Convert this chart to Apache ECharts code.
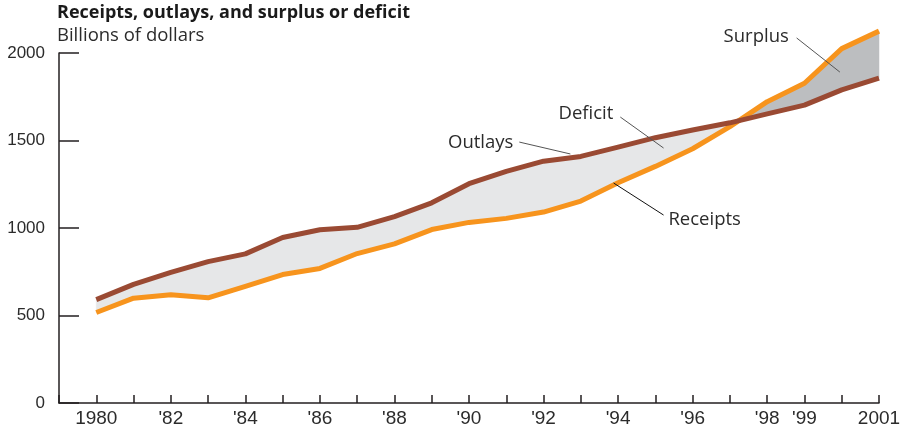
<!DOCTYPE html>
<html><head><meta charset="utf-8">
<script src="https://cdn.jsdelivr.net/npm/echarts@6/dist/echarts.min.js"></script>
<style>html,body{margin:0;padding:0;background:#fff}#c{width:911px;height:433px}</style>
</head><body><div id="c"></div>
<script>
// ---- data (billions of dollars) ----
const years = [1980,1981,1982,1983,1984,1985,1986,1987,1988,1989,1990,1991,1992,1993,1994,1995,1996,1997,1998,1999,2000,2001];
const receipts = [517,599,618,601,666,734,769,854,909,991,1032,1055,1091,1154,1259,1352,1453,1579,1722,1827,2025,2125];
const outlays  = [591,678,746,808,852,946,990,1004,1065,1144,1253,1324,1382,1409,1462,1516,1560,1601,1652,1702,1789,1856];
const tickLabelYears = [1980,1982,1984,1986,1988,1990,1992,1994,1996,1998,1999,2001];
const tickLabelTexts = ['1980',"'82","'84","'86","'88","'90","'92","'94","'96","'98","'99",'2001'];
const yTicks = [0,500,1000,1500,2000];

// ---- fill regions between the two curves (deficit / surplus), split at crossovers ----
function buildRegions(){
  const regions = []; // {kind, pts:[[x,r,o],...]}
  let cur = null;
  for (let i=0;i<years.length;i++){
    const r=receipts[i], o=outlays[i];
    if (i>0){
      const d0=outlays[i-1]-receipts[i-1], d1=o-r;
      if (d0*d1<0){
        const t=d0/(d0-d1);
        const x=years[i-1]+t;
        const y=receipts[i-1]+t*(r-receipts[i-1]);
        cur.pts.push([x,y,y]);
        cur = {kind: d1>0?'deficit':'surplus', pts:[[x,y,y]]};
        regions.push(cur);
      }
    }
    if (!cur){ cur = {kind: o>=r?'deficit':'surplus', pts:[]}; regions.push(cur); }
    cur.pts.push([years[i],r,o]);
  }
  return regions;
}
const regions = buildRegions();
const regionColor = {deficit:'#e6e7e8', surplus:'#bcbec0'};

const chart = echarts.init(document.getElementById('c'), null, {renderer:'canvas'});
const axisColor = '#231f20';
const textColor = '#2b2b2b';
const annoFont = '"Open Sans", "Noto Sans", sans-serif';

chart.setOption({
  animation:false,
  backgroundColor:'#fff',
  title:[
    {text:'Receipts, outlays, and surplus or deficit', left:57, top:4, padding:0,
     textStyle:{fontFamily:annoFont, fontWeight:'bold', fontSize:18, color:'#1a1a1a'}},
    {text:'Billions of dollars', left:57, top:26, padding:0,
     textStyle:{fontFamily:annoFont, fontWeight:'normal', fontSize:18.5, color:textColor}}
  ],
  grid:{left:59, right:32, top:53, bottom:30, containLabel:false},
  xAxis:{
    type:'value', min:1979, max:2001, interval:1,
    axisLine:{show:true, lineStyle:{color:axisColor, width:1.5}},
    axisTick:{show:true, inside:true, length:8, lineStyle:{color:axisColor, width:1.5}},
    splitLine:{show:false},
    axisLabel:{
      margin:6, fontSize:19, color:textColor, fontFamily:'"Liberation Sans", Arial, sans-serif',
      showMinLabel:true, showMaxLabel:true,
      formatter:function(v){ const k=tickLabelYears.indexOf(Math.round(v)); return k>=0?tickLabelTexts[k]:''; }
    }
  },
  yAxis:{
    type:'value', min:0, max:2000, interval:500,
    axisLine:{show:true, lineStyle:{color:axisColor, width:1.5}},
    axisTick:{show:true, inside:true, length:20, lineStyle:{color:axisColor, width:1.5}},
    splitLine:{show:false},
    axisLabel:{margin:14, fontSize:17, color:textColor, fontFamily:'"Liberation Sans", Arial, sans-serif',
      formatter:function(v){ return yTicks.indexOf(v)>=0? String(v):''; }}
  },
  series:[
    {name:'Bands', type:'custom', clip:false, silent:true, z:1,
     data: regions.map((r,i)=>[i]),
     encode:{x:-1, y:-1},
     renderItem:function(params, api){
       const reg = regions[params.dataIndex];
       const top = reg.pts.map(p=>api.coord([p[0], p[2]]));
       const bot = reg.pts.map(p=>api.coord([p[0], p[1]])).reverse();
       return {type:'polygon', shape:{points: top.concat(bot)},
               style:{fill: regionColor[reg.kind], stroke:regionColor[reg.kind], lineWidth:0.5}};
     }},
    {name:'Receipts', type:'line', z:3, data:years.map((y,i)=>[y,receipts[i]]), symbol:'none', clip:false, silent:true,
     lineStyle:{width:5, color:'#f7941d', cap:'butt', join:'round'}},
    {name:'Outlays', type:'line', z:4, data:years.map((y,i)=>[y,outlays[i]]), symbol:'none', clip:false, silent:true,
     lineStyle:{width:5, color:'#9a4a33', cap:'butt', join:'round'}}
  ]
});

// ---- annotations in data coordinates ----
const annotations = [
  {text:'Surplus',  at:[1998.58,2091], align:'right', line:[[1998.79,2086],[1999.95,1891]], lc:'#555'},
  {text:'Deficit',  at:[1992.40,1651], align:'left',  line:[[1994.06,1634],[1995.22,1457]], lc:'#555'},
  {text:'Outlays',  at:[1991.19,1486], align:'right', line:[[1991.35,1491],[1992.72,1423]], lc:'#555'},
  {text:'Receipts', at:[1995.35,1046], align:'left',  line:[[1993.88,1257],[1995.22,1074]], lc:'#111'}
];
const g = [];
annotations.forEach(a=>{
  const p = chart.convertToPixel({gridIndex:0}, a.at);
  const p1 = chart.convertToPixel({gridIndex:0}, a.line[0]);
  const p2 = chart.convertToPixel({gridIndex:0}, a.line[1]);
  g.push({type:'line', silent:true, z:100, shape:{x1:p1[0],y1:p1[1],x2:p2[0],y2:p2[1]},
          style:{stroke:a.lc, lineWidth:1}});
  g.push({type:'text', silent:true, z:100, x:p[0], y:p[1],
          style:{text:a.text, fill:textColor, font:'18.5px '+annoFont, align:a.align, verticalAlign:'middle'}});
});
chart.setOption({graphic:g});
</script>
</body></html>
